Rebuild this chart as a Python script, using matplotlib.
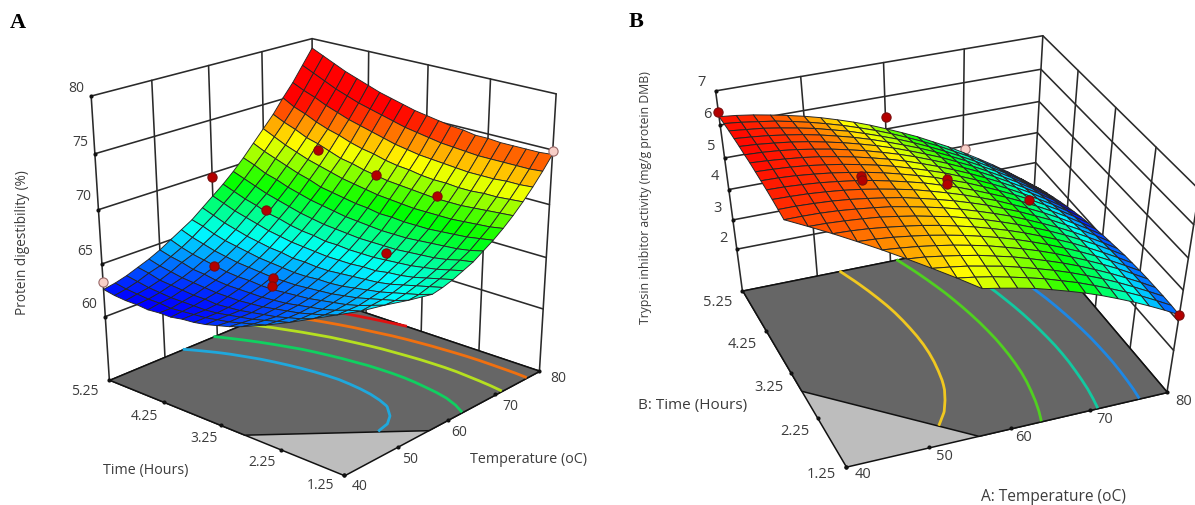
import numpy as np
import matplotlib
matplotlib.use("Agg")
import matplotlib.pyplot as plt
from matplotlib.colors import LinearSegmentedColormap, Normalize
from mpl_toolkits.mplot3d.art3d import Poly3DCollection

W, H = 1195, 506
n = float("nan")

temperature = [40, 42, 44, 46, 48, 50, 52, 54, 56, 58, 60, 62, 64, 66, 68, 70, 72, 74, 76, 78, 80]
time_hours = [1.25, 1.45, 1.65, 1.85, 2.05, 2.25, 2.45, 2.65, 2.85, 3.05, 3.25, 3.45, 3.65, 3.85, 4.05, 4.25, 4.45, 4.65, 4.85, 5.05, 5.25]

digestibility = [
    [n]*8 + [66.4, 66.6, 66.9, 67.3, 67.7, 68.3, 68.9, 69.6, 70.4, 71.3, 72.3, 73.4, 74.6],
    [n]*7 + [65.9, 66.0, 66.3, 66.6, 67.0, 67.5, 68.0, 68.7, 69.4, 70.3, 71.2, 72.2, 73.3, 74.5],
    [n]*6 + [65.5, 65.5, 65.7, 66.0, 66.3, 66.7, 67.2, 67.8, 68.5, 69.3, 70.2, 71.1, 72.2, 73.3, 74.5],
    [n]*5 + [65.0, 65.1, 65.2, 65.4, 65.7, 66.0, 66.5, 67.0, 67.7, 68.4, 69.2, 70.1, 71.1, 72.1, 73.3, 74.5],
    [n]*4 + [64.7, 64.7, 64.7, 64.9, 65.1, 65.4, 65.8, 66.3, 66.9, 67.6, 68.3, 69.1, 70.0, 71.0, 72.1, 73.3, 74.5],
    [n]*3 + [64.4, 64.3, 64.3, 64.4, 64.6, 64.9, 65.2, 65.7, 66.2, 66.8, 67.5, 68.2, 69.1, 70.0, 71.0, 72.1, 73.3, 74.6],
    [n]*2 + [64.1, 64.0, 64.0, 64.0, 64.2, 64.4, 64.7, 65.1, 65.5, 66.1, 66.7, 67.4, 68.2, 69.1, 70.0, 71.1, 72.2, 73.4, 74.6],
    [n]*1 + [63.9, 63.8, 63.7, 63.7, 63.8, 64.0, 64.2, 64.5, 65.0, 65.5, 66.0, 66.7, 67.4, 68.2, 69.1, 70.1, 71.1, 72.3, 73.5, 74.8],
    [63.8, 63.6, 63.5, 63.4, 63.5, 63.6, 63.8, 64.1, 64.4, 64.9, 65.4, 66.0, 66.7, 67.4, 68.3, 69.2, 70.2, 71.2, 72.4, 73.6, 74.9],
    [63.4, 63.3, 63.2, 63.2, 63.3, 63.4, 63.7, 64.0, 64.4, 64.8, 65.4, 66.0, 66.7, 67.5, 68.3, 69.3, 70.3, 71.4, 72.5, 73.8, 75.1],
    [63.1, 63.0, 63.0, 63.0, 63.1, 63.3, 63.6, 63.9, 64.3, 64.8, 65.4, 66.1, 66.8, 67.6, 68.5, 69.4, 70.4, 71.5, 72.7, 74.0, 75.3],
    [62.8, 62.8, 62.8, 62.8, 63.0, 63.2, 63.5, 63.9, 64.3, 64.9, 65.5, 66.1, 66.9, 67.7, 68.6, 69.6, 70.6, 71.7, 72.9, 74.2, 75.5],
    [62.6, 62.6, 62.6, 62.7, 62.9, 63.2, 63.5, 63.9, 64.4, 64.9, 65.6, 66.3, 67.0, 67.9, 68.8, 69.8, 70.8, 72.0, 73.2, 74.5, 75.8],
    [62.5, 62.5, 62.5, 62.6, 62.9, 63.2, 63.6, 64.0, 64.5, 65.1, 65.7, 66.4, 67.2, 68.1, 69.0, 70.0, 71.1, 72.2, 73.5, 74.8, 76.1],
    [62.3, 62.4, 62.5, 62.7, 62.9, 63.2, 63.6, 64.1, 64.6, 65.2, 65.9, 66.6, 67.4, 68.3, 69.2, 70.3, 71.3, 72.5, 73.8, 75.1, 76.4],
    [62.3, 62.3, 62.5, 62.7, 63.0, 63.3, 63.7, 64.2, 64.8, 65.4, 66.1, 66.9, 67.7, 68.6, 69.6, 70.6, 71.7, 72.9, 74.1, 75.4, 76.8],
    [62.2, 62.4, 62.5, 62.8, 63.1, 63.5, 63.9, 64.4, 65.0, 65.6, 66.4, 67.1, 68.0, 68.9, 69.9, 70.9, 72.1, 73.2, 74.5, 75.8, 77.2],
    [62.3, 62.4, 62.6, 62.9, 63.2, 63.6, 64.1, 64.6, 65.2, 65.9, 66.7, 67.5, 68.3, 69.3, 70.3, 71.3, 72.4, 73.6, 74.9, 76.2, 77.6],
    [62.3, 62.5, 62.7, 63.0, 63.4, 63.9, 64.3, 64.9, 65.5, 66.2, 67.0, 67.8, 68.7, 69.6, 70.7, 71.7, 72.9, 74.1, 75.4, 76.7, 78.1],
    [62.4, 62.6, 62.9, 63.3, 63.6, 64.1, 64.6, 65.2, 65.9, 66.6, 67.4, 68.2, 69.1, 70.1, 71.1, 72.2, 73.3, 74.5, 75.8, 77.2, 78.6],
    [62.6, 62.8, 63.1, 63.5, 63.9, 64.4, 65.0, 65.6, 66.2, 67.0, 67.8, 68.6, 69.5, 70.5, 71.6, 72.7, 73.8, 75.1, 76.3, 77.7, 79.1],
]

trypsin = [
    [n]*8 + [5.39, 5.29, 5.18, 5.06, 4.91, 4.75, 4.58, 4.39, 4.18, 3.96, 3.72, 3.47, 3.20],
    [n]*7 + [5.53, 5.45, 5.35, 5.23, 5.10, 4.96, 4.79, 4.62, 4.42, 4.21, 3.99, 3.75, 3.49, 3.22],
    [n]*6 + [5.65, 5.58, 5.50, 5.39, 5.28, 5.14, 4.99, 4.83, 4.65, 4.45, 4.24, 4.01, 3.76, 3.50, 3.23],
    [n]*5 + [5.76, 5.71, 5.63, 5.54, 5.44, 5.31, 5.18, 5.02, 4.85, 4.67, 4.47, 4.25, 4.02, 3.77, 3.51, 3.23],
    [n]*4 + [5.86, 5.81, 5.75, 5.67, 5.58, 5.47, 5.35, 5.20, 5.05, 4.88, 4.69, 4.48, 4.26, 4.03, 3.78, 3.51, 3.23],
    [n]*3 + [5.94, 5.91, 5.86, 5.79, 5.71, 5.61, 5.50, 5.37, 5.23, 5.07, 4.89, 4.70, 4.49, 4.27, 4.03, 3.77, 3.50, 3.22],
    [n]*2 + [6.01, 5.99, 5.95, 5.89, 5.82, 5.74, 5.64, 5.52, 5.39, 5.24, 5.08, 4.90, 4.70, 4.49, 4.27, 4.02, 3.76, 3.49, 3.20],
    [n]*1 + [6.06, 6.05, 6.02, 5.98, 5.93, 5.85, 5.76, 5.65, 5.54, 5.40, 5.25, 5.08, 4.90, 4.70, 4.49, 4.26, 4.01, 3.75, 3.47, 3.18],
    [6.10, 6.10, 6.09, 6.06, 6.01, 5.95, 5.88, 5.78, 5.67, 5.55, 5.41, 5.25, 5.08, 4.90, 4.69, 4.47, 4.24, 3.99, 3.72, 3.44, 3.14],
    [6.14, 6.14, 6.12, 6.09, 6.04, 5.97, 5.89, 5.80, 5.68, 5.55, 5.41, 5.25, 5.08, 4.88, 4.68, 4.45, 4.22, 3.96, 3.69, 3.41, 3.10],
    [6.18, 6.17, 6.15, 6.11, 6.06, 5.99, 5.90, 5.80, 5.69, 5.55, 5.40, 5.24, 5.06, 4.87, 4.65, 4.43, 4.19, 3.93, 3.65, 3.36, 3.06],
    [6.21, 6.20, 6.17, 6.13, 6.07, 6.00, 5.91, 5.80, 5.68, 5.55, 5.39, 5.23, 5.04, 4.84, 4.63, 4.40, 4.15, 3.89, 3.61, 3.31, 3.00],
    [6.23, 6.22, 6.19, 6.14, 6.08, 6.00, 5.91, 5.80, 5.67, 5.53, 5.38, 5.20, 5.02, 4.81, 4.59, 4.36, 4.11, 3.84, 3.56, 3.26, 2.94],
    [6.25, 6.23, 6.20, 6.15, 6.08, 6.00, 5.90, 5.79, 5.66, 5.51, 5.35, 5.18, 4.98, 4.77, 4.55, 4.31, 4.05, 3.78, 3.50, 3.19, 2.88],
    [6.27, 6.24, 6.20, 6.15, 6.08, 5.99, 5.89, 5.77, 5.64, 5.49, 5.32, 5.14, 4.94, 4.73, 4.50, 4.26, 4.00, 3.72, 3.43, 3.12, 2.80],
    [6.27, 6.25, 6.21, 6.15, 6.07, 5.98, 5.87, 5.75, 5.61, 5.46, 5.29, 5.10, 4.90, 4.68, 4.45, 4.20, 3.93, 3.65, 3.36, 3.05, 2.72],
    [6.28, 6.25, 6.20, 6.14, 6.06, 5.96, 5.85, 5.72, 5.58, 5.42, 5.24, 5.05, 4.85, 4.62, 4.39, 4.13, 3.86, 3.58, 3.28, 2.96, 2.63],
    [6.28, 6.24, 6.19, 6.12, 6.04, 5.94, 5.82, 5.69, 5.54, 5.37, 5.19, 5.00, 4.79, 4.56, 4.32, 4.06, 3.79, 3.50, 3.19, 2.87, 2.53],
    [6.28, 6.23, 6.18, 6.10, 6.01, 5.91, 5.78, 5.65, 5.49, 5.32, 5.14, 4.94, 4.72, 4.49, 4.24, 3.98, 3.70, 3.41, 3.10, 2.77, 2.43],
    [6.27, 6.22, 6.15, 6.08, 5.98, 5.87, 5.74, 5.60, 5.44, 5.27, 5.08, 4.87, 4.65, 4.42, 4.16, 3.90, 3.61, 3.31, 3.00, 2.66, 2.32],
    [6.25, 6.20, 6.13, 6.04, 5.94, 5.83, 5.70, 5.55, 5.39, 5.21, 5.01, 4.80, 4.58, 4.33, 4.08, 3.80, 3.51, 3.21, 2.89, 2.55, 2.20],
]

# design points: temperature, time, response
A_red = [(71.5, 4.40, 71.7), (72.0, 3.45, 70.6), (72.2, 2.45, 70.2), (62.2, 4.50, 67.3),
         (52.0, 4.47, 63.9), (53.8, 3.62, 63.9), (52.5, 3.52, 63.6), (63.0, 2.53, 66.4)]
A_red_behind = [(60.0, 5.25, 69.6)]
A_pink = [(40, 5.25, 63.3), (80, 1.25, 74.9)]
B_red = [(40, 5.25, 6.4), (80, 1.25, 3.2), (51.0, 3.55, 5.96), (50.8, 3.45, 5.97),
         (61.5, 3.65, 5.25), (61.0, 3.52, 5.30), (71.8, 3.62, 4.14)]
B_red_behind = [(60.1, 5.25, 5.38)]
B_pink_behind = [(70.3, 5.25, 3.90)]

A_z_ticks = [60, 65, 70, 75, 80]
B_z_ticks = [2, 3, 4, 5, 6, 7]
T_ticks = [40, 50, 60, 70, 80]
t_ticks = [1.25, 2.25, 3.25, 4.25, 5.25]
A_floor, A_top = 53.8, 80
B_floor, B_top = 0.52, 7
A_levels = [65.4, 67.5, 70.2, 72.9, 75.6]
B_levels = [3.67, 4.28, 4.92, 5.62]
A_level_colors = ["#1fa8dc", "#10d060", "#b5e020", "#f07010", "#e01010"]
B_level_colors = ["#1e88e5", "#12c9a0", "#50d020", "#f0c820"]
cut_T, cut_t = 56, 2.85

# camera calibration: (temperature, time, z) -> pixel in the 1195x506 image
calA = [(40,1.25,53.8,344,477),(40,5.25,53.8,108,381),(80,1.25,53.8,543,368),(80,5.25,53.8,310,295),
        (40,5.25,80,92,98),(80,1.25,80,547,90),(80,5.25,80,312,41),
        (40,5.25,75,95,152),(40,5.25,70,99,206),(40,5.25,65,102,260),(40,5.25,60,105,314),
        (50,1.25,53.8,393,450),(60,1.25,53.8,443,422),(70,1.25,53.8,494,396),
        (40,2.25,53.8,285,453),(40,3.25,53.8,226,429),(40,4.25,53.8,167,405),
        (50,5.25,80,148,83),(60,5.25,80,204,70),(70,5.25,80,259,56),
        (80,4.25,80,374,55),(80,3.25,80,435,67),(80,2.25,80,497,78)]
calB = [(40,1.25,.52,846,466),(40,5.25,.52,742,293),(80,1.25,.52,1167,392),(80,5.25,.52,1032,233),
        (40,5.25,7,717,93),(80,5.25,7,1042,40),(80,1.25,7,1201,182),
        (40,5.25,6,721,124),(40,5.25,5,724,155),(40,5.25,4,729,186),(40,5.25,3,733,217),(40,5.25,2,737,247),
        (50,1.25,.52,926,448),(60,1.25,.52,1007,429),(70,1.25,.52,1088,411),
        (40,2.25,.52,820,423),(40,3.25,.52,794,379),(40,4.25,.52,768,336),
        (50,5.25,7,798,80),(60,5.25,7,880,66),(70,5.25,7,960,53),
        (80,4.25,7,1080,75),(80,3.25,7,1119,110),(80,2.25,7,1158,152),
        (80,5.25,6,1041,70),(80,5.25,5,1040,100),(80,5.25,4,1038,132),(80,5.25,3,1036,162)]


def fit(cal, zf, zt):
    c = np.array(cal, float)
    X = np.c_[(c[:, 0]-40)/40, (c[:, 1]-1.25)/4, (c[:, 2]-zf)/(zt-zf), np.ones(len(c))]
    x, y = c[:, 3]/1000, c[:, 4]/1000
    A = []
    for Xi, xi, yi in zip(X, x, y):
        A.append(np.r_[Xi, 0*Xi, -xi*Xi])
        A.append(np.r_[0*Xi, Xi, -yi*Xi])
    p = np.linalg.svd(np.array(A))[2][-1].reshape(3, 4)
    p = p/p[2, 3]
    N = np.array([[1/40, 0, 0, -1], [0, .25, 0, -1.25/4],
                  [0, 0, 1/(zt-zf), -zf/(zt-zf)], [0, 0, 0, 1]])
    P = p @ N
    P[:2] *= 1000
    return P


def install(ax, P):
    def get_proj():
        inv = ax.transData.inverted()
        o = inv.transform((0, H))
        e = inv.transform((1, H-1))
        sx, sy = e-o
        return np.array([sx*P[0]+o[0]*P[2], sy*P[1]+o[1]*P[2], [0, 0, 0, -1.0], P[2]])
    ax.get_proj = get_proj


def soften(Z):
    """Remove the rounding ripple of the read-off table before tracing contours."""
    out = Z.copy()
    for j in range(Z.shape[0]):
        for i in range(Z.shape[1]):
            if np.isnan(Z[j, i]):
                continue
            w = sw = 0.0
            for dj, di, k in ((0, 0, 4), (0, 1, 2), (0, -1, 2), (1, 0, 2), (-1, 0, 2)):
                a, b = j+dj, i+di
                # mirror the neighbour across the point when it is missing, so slopes stay
                if 0 <= a < Z.shape[0] and 0 <= b < Z.shape[1] and np.isfinite(Z[a, b]):
                    oa, ob = j-dj, i-di
                    if 0 <= oa < Z.shape[0] and 0 <= ob < Z.shape[1] and np.isfinite(Z[oa, ob]):
                        w += k*Z[a, b]
                        sw += k
            out[j, i] = (w+ (0 if sw else Z[j, i]))/(sw if sw else 1)
    return out


fig = plt.figure(figsize=(W/100, H/100), dpi=100)
FONT = "Open Sans"
TXT = "#3c3c3c"


def label(x, y, s, size=10, **kw):
    fig.text(x/W, 1-y/H, s, ha="center", va="center", family=FONT, fontsize=size, color=TXT, **kw)


def panel(rect, cal, Z, zf, zt, zticks, norm, cmap, levels, lc, mesh_lw):
    ax = fig.add_axes(rect, projection="3d")
    ax.set_axis_off()
    ax.computed_zorder = False
    install(ax, fit(cal, zf, zt))
    Z = np.array(Z, float)

    def line(x, y, z, c="#2a2a2a", lw=1.15, zo=1):
        ax.plot(x, y, z, color=c, lw=lw, zorder=zo, clip_on=False, solid_capstyle="round")
    for T in T_ticks[1:-1]:
        line([T, T], [5.25, 5.25], [zf, zt])
    for t in t_ticks[1:-1]:
        line([80, 80], [t, t], [zf, zt])
    for z in zticks:
        line([40, 80, 80], [5.25, 5.25, 1.25], [z, z, z])
    line([40, 40], [5.25, 5.25], [zf, zt])
    line([80, 80], [1.25, 1.25], [zf, zt])
    line([80, 80], [5.25, 5.25], [zf, zt])
    floor_all = [[(40, 1.25, zf), (80, 1.25, zf), (80, 5.25, zf), (40, 5.25, zf)]]
    floor_dark = [[(40, cut_t, zf), (cut_T, 1.25, zf), (80, 1.25, zf), (80, 5.25, zf), (40, 5.25, zf)]]
    for verts, col, zo in ((floor_all, "#bdbdbd", 2), (floor_dark, "#666666", 2.1)):
        c = Poly3DCollection(verts, facecolors=col, edgecolors="#111111", linewidths=1.1, zorder=zo)
        c.set_clip_on(False)
        ax.add_collection3d(c)
    cs = ax.contour(temperature, time_hours, soften(Z), levels=levels, colors=lc, linewidths=2, zdir="z", offset=zf)
    cs.set_zorder(3)
    cs.set_clip_on(False)
    ticks = [(T, 1.25, zf) for T in T_ticks] + [(40, t, zf) for t in t_ticks] + [(40, 5.25, z) for z in zticks]
    tx, ty, tz = zip(*ticks)
    ax.scatter(tx, ty, tz, s=9, c="#111111", depthshade=False, zorder=4, clip_on=False, linewidths=0)
    polys, vals = [], []
    for j in range(20):
        for i in range(20):
            q = [(i, j), (i+1, j), (i+1, j+1), (i, j+1)]
            q = [(temperature[a], time_hours[b], Z[b, a]) for a, b in q if np.isfinite(Z[b, a])]
            if len(q) < 3:
                continue
            vals.append(np.mean([p[2] for p in q]))
            polys.append(q+[q[-1]] if len(q) == 3 else q)
    s = Poly3DCollection(polys, facecolors=cmap(norm(np.array(vals))), edgecolors="#262626", linewidths=mesh_lw, zorder=5)
    s.set_clip_on(False)
    ax.add_collection3d(s)
    return ax


def dots(ax, pts, fc, ec, zo):
    x, y, z = zip(*pts)
    ax.scatter(x, y, z, s=44, c=fc, edgecolors=ec, linewidths=.8, depthshade=False, zorder=zo, clip_on=False)


RED, REDE = "#b40000", "#7c0c0c"
PINK, PINKE = "#f8cfc8", "#9a6a6a"
cmA = LinearSegmentedColormap.from_list("a", ["#0000ff", "#00ffff", "#00ff00", "#ffff00", "#ff0000"])
nA = Normalize(62.3, 75.2, clip=True)
cmB = LinearSegmentedColormap.from_list("b", [(0, "#00006a"), (.8/4.1, "#0000ff"), (1.6/4.1, "#00ffff"),
                                              (2.45/4.1, "#00ff00"), (3.3/4.1, "#ffff00"), (1, "#ff0000")])
nB = Normalize(2.2, 6.3, clip=True)

a = panel([0, 0, .42, 1], calA, digestibility, A_floor, A_top, A_z_ticks, nA, cmA, A_levels, A_level_colors, .65)
dots(a, A_red_behind, RED, REDE, 4.5)
dots(a, A_red, RED, REDE, 6)
dots(a, A_pink, PINK, PINKE, 6)
b = panel([.5, 0, .42, 1], calB, trypsin, B_floor, B_top, B_z_ticks, nB, cmB, B_levels, B_level_colors, .7)
dots(b, B_pink_behind, PINK, PINKE, 4.5)
dots(b, B_red_behind, RED, REDE, 4.5)
dots(b, B_red, RED, REDE, 6)

fig.text(18/W, 1-23/H, "A", family="Liberation Serif", weight="bold", fontsize=16, ha="center", va="center", color="black")
fig.text(636/W, 1-22/H, "B", family="Liberation Serif", weight="bold", fontsize=16, ha="center", va="center", color="black")

for v, (x, y) in zip(A_z_ticks, [(89, 305), (85, 252), (83, 197), (80, 143), (76, 88)]):
    label(x, y, str(v))
for v, (x, y) in zip(t_ticks, [(321, 486), (262, 463), (204, 439), (144, 416), (85, 392)]):
    label(x, y, str(v))
for v, (x, y) in zip(T_ticks, [(360, 487), (410, 460), (459, 433), (510, 407), (558, 378)]):
    label(x, y, str(v))
label(146, 471, "Time (Hours)", size=10.3)
label(528, 460, "Temperature (oC)", size=10.3)
label(23, 243, "Protein digestibility (%)", rotation=90, size=9.8)

for v, (x, y) in zip(B_z_ticks, [(723, 239), (718, 208), (715, 177), (711, 146), (707, 115), (702, 83)]):
    label(x, y, str(v), size=10.5)
for v, (x, y) in zip(t_ticks, [(821, 475), (795, 432), (769, 388), (742, 345), (718, 302)]):
    label(x, y, str(v), size=10.5)
for v, (x, y) in zip(T_ticks, [(863, 475), (944, 457), (1024, 438), (1105, 420), (1184, 402)]):
    label(x, y, str(v), size=10.5)
label(693, 405, "B: Time (Hours)", size=11)
label(1053, 497, "A: Temperature (oC)", size=11.2)
label(646, 198, "Trypsin inhibitor activity (mg/g protein DMB)", rotation=90, size=8.8)

fig.savefig("out.png", dpi=100)
